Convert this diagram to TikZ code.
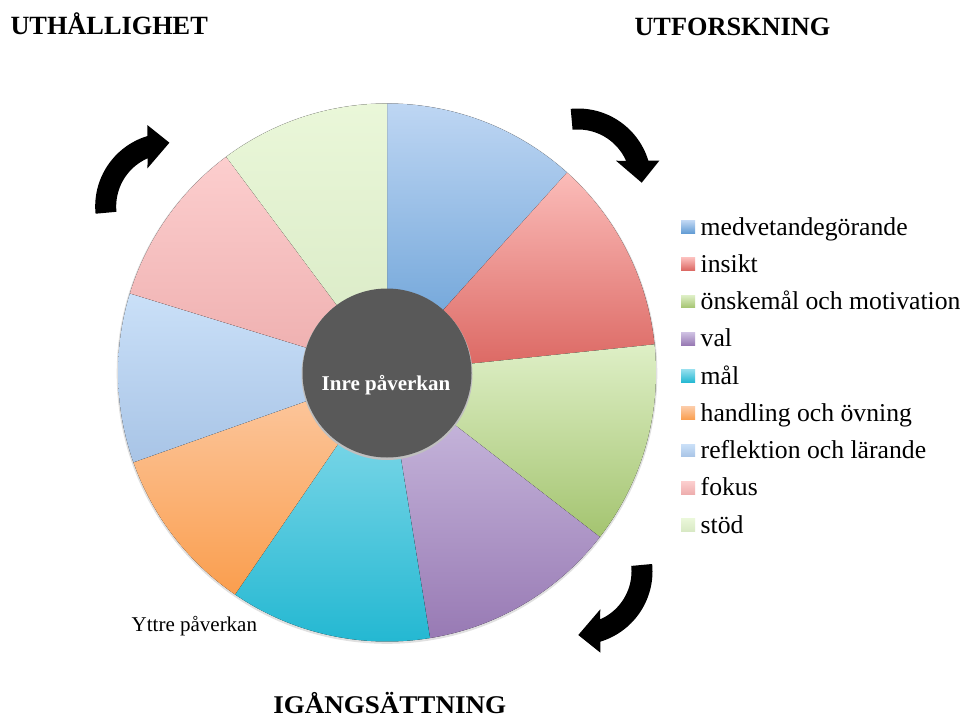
\documentclass[tikz,border=0pt]{standalone}
\usepackage{fontspec}
\setmainfont{Liberation Serif}
\usepackage{graphicx}
\definecolor{c1t}{RGB}{190,214,243}\definecolor{c1b}{RGB}{98,156,212}
\definecolor{c2t}{RGB}{251,188,185}\definecolor{c2b}{RGB}{219,102,97}
\definecolor{c3t}{RGB}{222,239,198}\definecolor{c3b}{RGB}{164,196,112}
\definecolor{c4t}{RGB}{206,192,226}\definecolor{c4b}{RGB}{152,122,180}
\definecolor{c5t}{RGB}{146,222,237}\definecolor{c5b}{RGB}{36,184,210}
\definecolor{c6t}{RGB}{252,202,164}\definecolor{c6b}{RGB}{250,158,78}
\definecolor{c7t}{RGB}{202,224,248}\definecolor{c7b}{RGB}{168,196,230}
\definecolor{c8t}{RGB}{252,206,206}\definecolor{c8b}{RGB}{238,174,174}
\definecolor{c9t}{RGB}{234,247,217}\definecolor{c9b}{RGB}{216,233,196}
\definecolor{innergray}{RGB}{89,89,89}
\newcommand\lgfont{\fontsize{25.7}{30}\selectfont}
\newcommand\hdfont{\fontsize{26.3}{30}\selectfont\bfseries}
\newcommand\curvearrowshape{%
  \fill[black] plot[domain=-95.7:-16.9, samples=40] ({7.3+73.5*cos(\x)},{72.7+73.5*sin(\x)})
    -- (88.6,51.4) -- (71,73.4) -- (45.3,51.4)
    -- plot[domain=-23.6:-95.9, samples=40] ({7.3+52.5*cos(\x)},{72.7+52.5*sin(\x)}) -- cycle;}
\begin{document}
\begin{tikzpicture}[x=1pt,y=-1pt,
  lbl/.style={anchor=base west, inner sep=0pt, outer sep=0pt}]
\useasboundingbox (0,0) rectangle (966,717);
\fill[white] (0,0) rectangle (966,717);
% pie shadow
\fill[black!12] (387,373.5) circle (270.3);
\coordinate (pc) at (387,372.5);
\foreach \a/\b/\ct/\cb in {-90/-48/c1t/c1b, -48/-6/c2t/c2b, -6/37.7/c3t/c3b,
   37.7/80.8/c4t/c4b, 80.8/124.4/c5t/c5b, 124.4/160.5/c6t/c6b,
   160.5/197.1/c7t/c7b, 197.1/233.3/c8t/c8b, 233.3/270/c9t/c9b}
  \fill[top color=\ct, bottom color=\cb] (pc) -- plot[domain=\a:\b, samples=50] ({387+269*cos(\x)},{372.5+269*sin(\x)}) -- cycle;
% inner circle
\fill[black!25] (387,374.5) circle (85.5);
\node[circle, fill=innergray, minimum size=169pt, inner sep=0pt] (inner) at (387,373) {};
\node[anchor=base, inner sep=0pt, text=white, font=\fontsize{21}{25}\selectfont\bfseries] (innerlbl) at (386,390) {Inre påverkan};
\node[lbl, font=\fontsize{21}{25}\selectfont] (outer) at (131.7,631.7) {Yttre påverkan};
% legend
\foreach \i/\t/\ct/\cb in {0/medvetandegörande/c1t/c1b, 1/insikt/c2t/c2b,
   2/önskemål och motivation/c3t/c3b, 3/val/c4t/c4b, 4/mål/c5t/c5b,
   5/handling och övning/c6t/c6b, 6/reflektion och lärande/c7t/c7b,
   7/fokus/c8t/c8b, 8/stöd/c9t/c9b}{
  \fill[top color=\ct, bottom color=\cb] (681,{220.7+37.25*\i}) rectangle ++(14,12.6);
  \node[lbl, font=\lgfont] (leg\i) at (700.7,{235+37.25*\i}) {\t};
}
% headings
\node[lbl, font=\hdfont] (h1) at (10.5,35) {UTHÅLLIGHET};
\node[lbl, font=\hdfont] (h2) at (634.5,35.7) {UTFORSKNING};
\node[lbl, font=\fontsize{25.5}{30}\selectfont\bfseries] (h3) at (273.3,713.5) {\scalebox{1.06}[1]{IGÅNGSÄTTNING}};
% curved arrows
\begin{scope}[shift={(570.7,109.3)}] \curvearrowshape \end{scope}
\begin{scope}[shift={(651.7,564)}, rotate=-90] \curvearrowshape \end{scope}
\begin{scope}[shift={(96,213.7)}, rotate=90] \curvearrowshape \end{scope}
\end{tikzpicture}
\end{document}
